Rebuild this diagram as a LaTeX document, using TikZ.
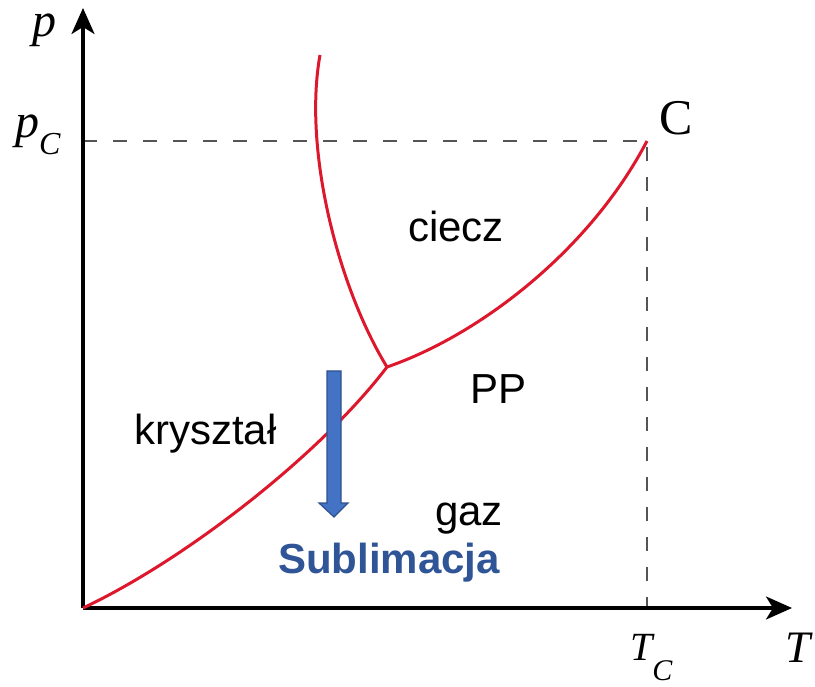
\documentclass[tikz,border=0pt]{standalone}
\usepackage{fontspec}
\setmainfont{Liberation Serif}
\setsansfont{Liberation Sans}
\definecolor{phred}{RGB}{222,24,44}
\definecolor{phgray}{RGB}{85,85,85}
\definecolor{arrblue}{RGB}{68,114,196}
\definecolor{arrblueline}{RGB}{47,82,143}
\definecolor{subblue}{RGB}{47,85,151}
\usetikzlibrary{arrows.meta}

\begin{document}
\begin{tikzpicture}[x=1pt,y=-1pt,
  axis/.style={line width=3.2pt,-{Stealth[length=26pt,width=23pt,inset=7pt]}},
  guide/.style={phgray,line width=1.8pt,dash pattern=on 14pt off 16pt},
  curve/.style={phred,line width=3pt,line join=round},
  region/.style={font=\sffamily\fontsize{42}{42}\selectfont,anchor=base west,inner sep=0pt},
  sym/.style={anchor=base west,inner sep=0pt}]
  \useasboundingbox (0,0) rectangle (815,687);
  % points of the diagram
  \coordinate (O) at (83,608);
  \coordinate (pend) at (83,8);
  \coordinate (Tend) at (792,608);
  \coordinate (C) at (647,141);
  \coordinate (TP) at (387,367);
  \coordinate (meltend) at (320,55);
  % guides to the critical point
  \draw[guide] (O |- C) -- (C) -- (C |- O);
  % axes
  \draw[axis] (O) -- (pend);
  \draw[axis] (O) -- (Tend);
  % phase boundaries
  \draw[curve] (O) .. controls (185,560) and (320,455) .. (TP);
  \draw[curve] (TP) .. controls (338,287) and (303,150) .. (meltend);
  \draw[curve] (TP) .. controls (480,335) and (590,250) .. (C);
  % sublimation arrow
  \filldraw[fill=arrblue,draw=arrblueline,line width=1.2pt]
    (327,371) -- (341,371) -- (341,503) -- (348,503) -- (334,517) -- (319,503) -- (327,503) -- cycle;
  % axis labels
  \node[sym,font=\fontsize{48}{48}\selectfont\itshape] (plab) at (32,37) {p};
  \node[sym] (pclab) at (15,138) {\fontsize{48}{48}\selectfont\itshape p\raisebox{-17pt}{\fontsize{32}{32}\selectfont C}};
  \node[sym,font=\fontsize{50}{50}\selectfont] (clab) at (659,135) {C};
  \node[sym] (tclab) at (630,660) {\fontsize{40}{40}\selectfont\itshape T\raisebox{-20pt}{\fontsize{30}{30}\selectfont C}};
  \node[sym,font=\fontsize{45}{45}\selectfont\itshape] (tlab) at (785,662) {T};
  % regions
  \node[region] (liquid) at (408,242) {ciecz};
  \node[region] (solid) at (134,445) {kryształ};
  \node[region] (triple) at (470,403) {PP};
  \node[region] (gas) at (435,525) {gaz};
  \node[region,font=\sffamily\bfseries\fontsize{42}{42}\selectfont,text=subblue] (sublim) at (278,573) {Sublimacja};
\end{tikzpicture}
\end{document}
